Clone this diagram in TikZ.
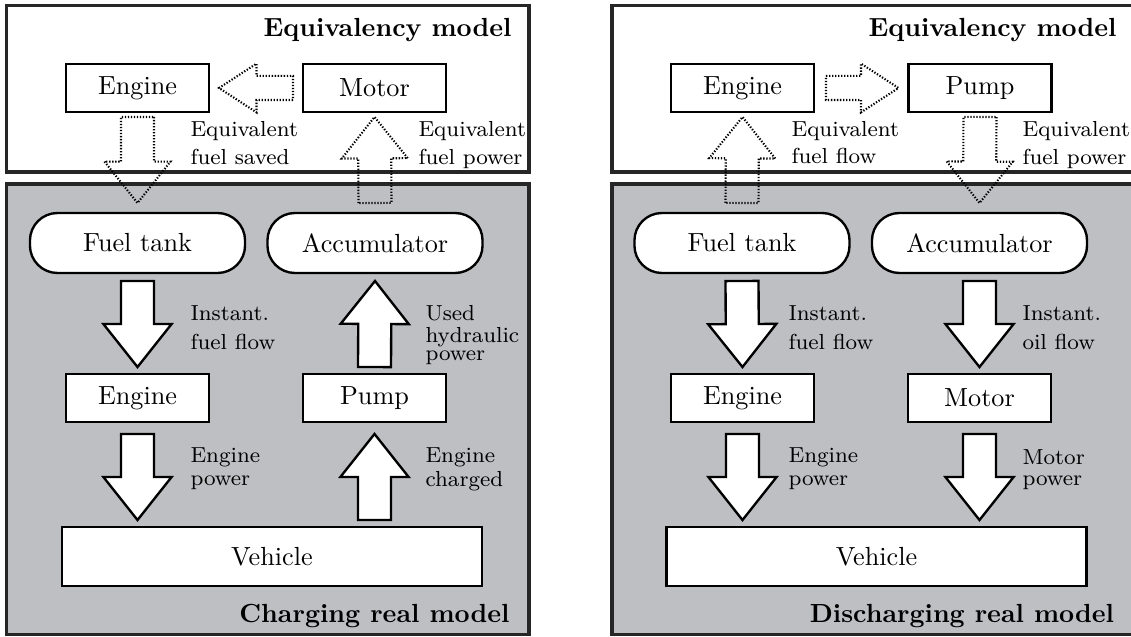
\documentclass[tikz,border=0pt]{standalone}
\usepackage{fontspec}
\usetikzlibrary{calc}
\definecolor{panelgray}{RGB}{190,191,195}

% Block arrow outline from a tail point to a tip point:
% #1 style, #2 tail, #3 tip, #4 shaft half-width, #5 head half-width, #6 head length
\newcommand\blockarrow[6]{%
  \path (#2) coordinate (ba-t) (#3) coordinate (ba-p);
  \path ($(ba-p)!#6!(ba-t)$) coordinate (ba-h);
  \draw[#1] ($(ba-t)!#4!90:(ba-p)$) -- ($(ba-h)!#4!90:(ba-p)$)
    -- ($(ba-h)!#5!90:(ba-p)$) -- (ba-p) -- ($(ba-h)!#5!-90:(ba-p)$)
    -- ($(ba-h)!#4!-90:(ba-p)$) -- ($(ba-t)!#4!-90:(ba-p)$) -- cycle;
}
\newcommand\flowsolid[2]{\blockarrow{solidarrow}{#1}{#2}{6.3pt}{13pt}{16.4pt}}
\newcommand\flowdotv[2]{\blockarrow{dotarrow}{#1}{#2}{6.3pt}{12.6pt}{15.8pt}}
\newcommand\flowdoth[2]{\blockarrow{dotarrow}{#1}{#2}{4.6pt}{9.3pt}{14.3pt}}

\tikzset{
  panel/.style={line width=1.5pt, draw={black!85}},
  unit/.style={draw, line width=0.9pt, fill=white, inner sep=0pt, outer sep=0pt,
    minimum width=54.6pt, minimum height=18.3pt, font=\fontsize{10}{12}\selectfont},
  store/.style={unit, rounded corners=10.5pt, minimum width=82.1pt, minimum height=22.9pt},
  wide/.style={unit, minimum width=160.3pt, minimum height=22.5pt},
  solidarrow/.style={draw, line width=0.9pt, fill=white, line join=miter},
  dotarrow/.style={draw, line width=0.8pt, dash pattern=on 0.5pt off 0.65pt, line join=miter},
  lbl/.style={anchor=base west, inner sep=0pt, font=\fontsize{8.3}{10}\selectfont},
  ttl/.style={anchor=base east, inner sep=0pt, font=\fontsize{10}{12}\selectfont\bfseries},
}

\begin{document}
\begin{tikzpicture}[x=0.3817pt, y=-0.3817pt]
\useasboundingbox (0,0) rectangle (1131,637);
\clip (0,0) rectangle (1131,637);

% ---------------- charging ----------------
\draw[panel, fill=white] (6.5,5.5) rectangle (529,172.3);
\draw[panel, fill=panelgray] (6.5,183.7) rectangle (529,634.5);
\node[ttl] (ceqt) at (512,37) {Equivalency model};
\node[ttl] (crlt) at (510,623) {Charging real model};

\node[unit] (cengE) at (137.5,88) {Engine};
\node[unit] (cmotE) at (374.5,88) {Motor};
\node[store] (ctank) at (137.5,243) {Fuel tank};
\node[store] (cacc) at (375,243) {Accumulator};
\node[unit] (ceng) at (137.5,398) {Engine};
\node[unit] (cpump) at (374.5,398) {Pump};
\node[wide] (cveh) at (272,556.5) {Vehicle};

\flowdotv{$(cengE.south)+(0,5)$}{$(ctank.north)+(0,-10)$}
\flowdoth{$(cmotE.west)+(-10,0)$}{$(cengE.east)+(10,0)$}
\flowdotv{$(cacc.north)+(0,-10)$}{$(cmotE.south)+(0,5)$}
\flowsolid{$(ctank.south)+(0,8)$}{$(ceng.north)+(0,-7)$}
\flowsolid{$(ceng.south)+(0,12)$}{$(ceng.south |- cveh.north)+(0,-7)$}
\flowsolid{$(cpump.north)+(0,-7)$}{$(cacc.south)+(0,8)$}
\flowsolid{$(cpump.south |- cveh.north)+(0,-7)$}{$(cpump.south)+(0,12)$}

\node[lbl] (cl1) at (190,137) {Equivalent};
\node[lbl] (cl2) at (190,165) {fuel saved};
\node[lbl] (cl3) at (418,137) {Equivalent};
\node[lbl] (cl4) at (418,165) {fuel power};
\node[lbl] (cl5) at (190,321) {Instant.};
\node[lbl] (cl6) at (190,350) {fuel flow};
\node[lbl] (cl7) at (190,463) {Engine};
\node[lbl] (cl8) at (190,486) {power};
\node[lbl] (cl9) at (425,321) {Used};
\node[lbl] (cl10) at (425,343) {hydraulic};
\node[lbl] (cl11) at (425,361) {power};
\node[lbl] (cl12) at (425,463) {Engine};
\node[lbl] (cl13) at (425,487) {charged};

% ---------------- discharging ----------------
\begin{scope}[shift={(605.5,0)}]
\draw[panel, fill=white] (6.5,5.5) rectangle (529,172.3);
\draw[panel, fill=panelgray] (6.5,183.7) rectangle (529,634.5);
\node[ttl] (deqt) at (511.5,37) {Equivalency model};
\node[ttl] (drlt) at (509,623) {Discharging real model};

\node[unit] (dengE) at (137,88) {Engine};
\node[unit] (dpumpE) at (374.5,88) {Pump};
\node[store] (dtank) at (136.5,243) {Fuel tank};
\node[store] (dacc) at (374,243) {Accumulator};
\node[unit] (deng) at (137,398) {Engine};
\node[unit] (dmot) at (374,398) {Motor};
\node[wide] (dveh) at (271,556.5) {Vehicle};

\flowdotv{$(dtank.north)+(0,-10)$}{$(dengE.south)+(0,5)$}
\flowdoth{$(dengE.east)+(12,0)$}{$(dpumpE.west)+(-10,0)$}
\flowdotv{$(dpumpE.south)+(0,5)$}{$(dacc.north)+(0,-10)$}
\flowsolid{$(dtank.south)+(0,8)$}{$(deng.north)+(0,-7)$}
\flowsolid{$(deng.south)+(0,12)$}{$(deng.south |- dveh.north)+(0,-7)$}
\flowsolid{$(dacc.south)+(0,8)$}{$(dmot.north)+(0,-7)$}
\flowsolid{$(dmot.south)+(0,12)$}{$(dmot.south |- dveh.north)+(0,-7)$}

\node[lbl] (dl1) at (185.5,137) {Equivalent};
\node[lbl] (dl2) at (185.5,164) {fuel flow};
\node[lbl] (dl3) at (416.5,137) {Equivalent};
\node[lbl] (dl4) at (416.5,165) {fuel power};
\node[lbl] (dl5) at (182.5,321) {Instant.};
\node[lbl] (dl6) at (182.5,350) {fuel flow};
\node[lbl] (dl7) at (182.5,463) {Engine};
\node[lbl] (dl8) at (182.5,486) {power};
\node[lbl] (dl9) at (416.5,321) {Instant.};
\node[lbl] (dl10) at (416.5,350) {oil flow};
\node[lbl] (dl11) at (416.5,465) {Motor};
\node[lbl] (dl12) at (416.5,486) {power};
\end{scope}
\end{tikzpicture}
\end{document}
